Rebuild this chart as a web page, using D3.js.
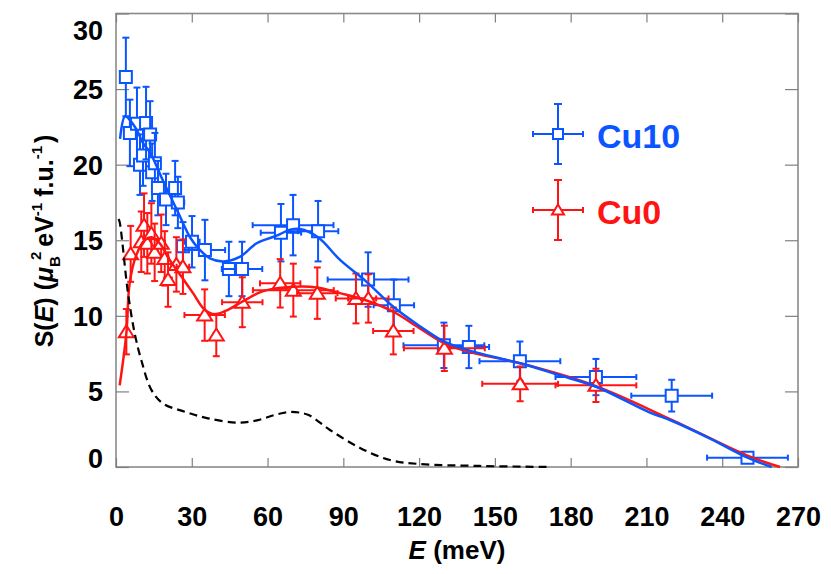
<!DOCTYPE html>
<html>
<head>
<meta charset="utf-8">
<script src="https://cdn.jsdelivr.net/npm/d3@7/dist/d3.min.js"></script>
<style>
  html, body { margin: 0; padding: 0; background: #fff; }
  svg { display: block; }
  text { font-family: "Liberation Sans", Arial, Helvetica, sans-serif; font-weight: bold; }
</style>
</head>
<body>
<svg id="chart" width="831" height="574"></svg>
<script>
// ---------------- data ----------------
const xTicks = [0, 30, 60, 90, 120, 150, 180, 210, 240, 270];
const yTicks = [0, 5, 10, 15, 20, 25, 30];
const seriesNames = ["Cu10", "Cu0"];

// Cu10 (blue squares): energy, S(E), x-error, y-error
const cu10E  = [3.9, 5.5, 8.3, 9.5, 10.7, 11.9, 13.5, 14.3, 15.4, 16.6, 19.8, 23.4, 24.5, 26.5, 30.1, 35.2, 44.7, 49.9, 65.3, 70.1, 80, 99.8, 110, 129.8, 139.7, 159.9, 190, 220, 250];
const cu10S  = [25.8, 22.1, 22.7, 20.0, 20.6, 22.75, 22.0, 19.5, 20.1, 18.45, 17.7, 18.45, 17.5, 14.6, 14.9, 14.35, 13.1, 13.1, 15.5, 16.0, 15.6, 12.4, 10.7, 8.05, 7.94, 7.0, 5.95, 4.72, 0.62];
const cu10Ex = [0.8, 0.8, 1, 1, 1, 1, 1, 1.2, 1.2, 1.5, 1.5, 2, 2.5, 2, 3, 8, 2.5, 8, 8, 16, 8, 16, 8, 16, 8, 16, 16, 16, 16];
const cu10Ey = [2.6, 2.2, 2.4, 2.0, 2.0, 2.4, 2.2, 1.9, 2.0, 1.8, 1.7, 1.8, 1.7, 1.6, 1.7, 2.0, 1.8, 1.8, 1.9, 2.0, 2.0, 1.8, 1.7, 1.5, 1.4, 1.3, 1.2, 1.05, 0];

// Cu0 (red triangles)
const cu0E  = [4.1, 5.8, 10.0, 11.1, 12.4, 14.0, 15.3, 17.9, 19.3, 20.6, 23.9, 26.5, 35.1, 39.7, 50, 65, 70.2, 79.7, 95, 99.9, 109.8, 130, 160, 190];
const cu0S  = [8.95, 14.1, 14.9, 16.0, 14.8, 15.45, 14.2, 14.8, 13.8, 12.4, 13.4, 13.25, 10.05, 8.73, 10.9, 12.15, 11.7, 11.5, 11.15, 11.15, 9.0, 7.85, 5.5, 5.4];
const cu0Ex = [0.8, 0.8, 1, 1, 1, 1.2, 1.2, 1.5, 1.5, 1.5, 2, 2.5, 8, 1, 8, 8, 16, 8, 8, 8, 8, 16, 15, 16];
const cu0Ey = [1.5, 1.85, 2.0, 2.1, 2.0, 2.0, 1.9, 1.9, 1.8, 1.8, 1.8, 1.8, 1.7, 1.4, 1.65, 1.6, 1.75, 1.7, 1.65, 1.6, 1.55, 1.5, 1.15, 1.1];

// Fit curves
const cu10FitE = [1.6, 3.6, 5.5, 8.2, 10.8, 13.5, 18.7, 24.7, 29.3, 33, 37.2, 42.5, 49, 55.7, 63.6, 68.9, 72.8, 80, 88.7, 99.2, 109.8, 120, 130, 140, 160, 175, 190, 211.4, 220, 235, 250, 259.6];
const cu10FitS = [21.7, 23.2, 22.95, 22.3, 21.4, 20.8, 18.9, 16.8, 15.2, 14.4, 13.8, 13.6, 13.9, 14.8, 15.3, 15.7, 15.75, 15.2, 13.7, 12.25, 10.6, 9.35, 8.29, 7.7, 6.86, 6.1, 5.31, 3.6, 3.06, 1.9, 0.62, 0];
const cu0FitE = [1.45, 4.1, 5.4, 8, 11.3, 14, 17.3, 21.2, 25.9, 30.5, 35.1, 39.1, 44.3, 49.6, 56.2, 59.7, 70.2, 79.5, 88.7, 99.5, 109.8, 120, 130, 140, 160, 190, 220, 250, 262.9];
const cu0FitS = [5.4, 8.84, 12.15, 14.0, 15.0, 15.2, 14.8, 13.7, 12.6, 11.5, 10.4, 10.1, 10.4, 10.9, 11.5, 11.7, 11.92, 11.88, 11.5, 11.0, 10.27, 9.2, 8.18, 7.6, 6.86, 5.35, 3.12, 0.75, 0];
const phononE = [1, 1.45, 4.75, 7.4, 10, 14, 18.6, 27.2, 36.4, 48.3, 56.2, 63, 69, 76, 84.7, 96.6, 108.5, 120, 144, 172];
const phononS = [16.4, 16.2, 11.5, 8.84, 7.08, 5.1, 4.2, 3.66, 3.22, 2.93, 3.1, 3.45, 3.64, 3.45, 2.45, 1.26, 0.46, 0.2, 0.07, 0];

// ---------------- drawing ----------------
const blue = "#0a55ff", red = "#ff1414";
const svg = d3.select("#chart");
const x = d3.scaleLinear().domain([0, 270]).range([116, 798]);
const y = d3.scaleLinear().domain([0, 30]).range([467, 13.5]);

const frame = svg.append("g");
// ticks (inward) on all four sides
const axB = svg.append("g").attr("transform", `translate(0,${y(0)})`)
  .call(d3.axisBottom(x).tickValues(xTicks).tickSize(-9).tickPadding(40).tickFormat(d3.format("d")));
const axT = svg.append("g").attr("transform", `translate(0,${y(30)})`)
  .call(d3.axisTop(x).tickValues(xTicks).tickSize(-9).tickFormat(""));
const axL = svg.append("g").attr("transform", `translate(${x(0)},0)`)
  .call(d3.axisLeft(y).tickValues(yTicks).tickSize(-13).tickPadding(13).tickFormat(d3.format("d")));
const axR = svg.append("g").attr("transform", `translate(${x(270)},0)`)
  .call(d3.axisRight(y).tickValues(yTicks).tickSize(-13).tickFormat(""));
[axB, axT, axL, axR].forEach(a => {
  a.select(".domain").remove();
  a.selectAll(".tick line").attr("stroke", "#808080").attr("stroke-width", 1.2);
  a.selectAll("text").attr("fill", "#000").style("font-size", "27px")
   .style("font-family", "'Liberation Sans', Arial, sans-serif").style("font-weight", "bold");
});
// end labels of the y axis sit inside the frame range
axL.selectAll(".tick text").attr("dy", d => d === 30 ? "0.95em" : (d === 0 ? "0.0em" : "0.35em"));

frame.append("rect")
  .attr("x", x(0)).attr("y", y(30)).attr("width", x(270) - x(0)).attr("height", y(0) - y(30))
  .attr("fill", "none").attr("stroke", "#8a8a8a").attr("stroke-width", 1.6);

const line = d3.line().x(d => x(d[0])).y(d => y(d[1])).curve(d3.curveCatmullRom.alpha(0.5));

function drawSeries(E, S, Ex, Ey, color, shape) {
  const g = svg.append("g");
  const cap = 3.5;
  E.forEach((e, i) => {
    const cx = x(e), cy = y(S[i]);
    const pg = g.append("g").attr("stroke", color).attr("stroke-width", 2).attr("fill", "none");
    if (Ey[i] > 0) {
      const y1 = y(S[i] + Ey[i]), y2 = y(S[i] - Ey[i]);
      pg.append("line").attr("x1", cx).attr("x2", cx).attr("y1", y1).attr("y2", y2);
      pg.append("line").attr("x1", cx - cap).attr("x2", cx + cap).attr("y1", y1).attr("y2", y1);
      pg.append("line").attr("x1", cx - cap).attr("x2", cx + cap).attr("y1", y2).attr("y2", y2);
    }
    if (Ex[i] > 0) {
      const x1 = x(e - Ex[i]), x2 = x(e + Ex[i]);
      pg.append("line").attr("x1", x1).attr("x2", x2).attr("y1", cy).attr("y2", cy);
      pg.append("line").attr("x1", x1).attr("x2", x1).attr("y1", cy - 3).attr("y2", cy + 3);
      pg.append("line").attr("x1", x2).attr("x2", x2).attr("y1", cy - 3).attr("y2", cy + 3);
    }
    pg.append("path").attr("d", shape).attr("transform", `translate(${cx},${cy})`)
      .attr("fill", "#fff").attr("stroke-width", 2);
  });
}
const squarePath = "M-6,-6H6V6H-6Z";
const triPath = "M0,-6.5L7.5,5.5L-7.5,5.5Z";

drawSeries(cu10E, cu10S, cu10Ex, cu10Ey, blue, squarePath);
drawSeries(cu0E, cu0S, cu0Ex, cu0Ey, red, triPath);

svg.append("path").datum(cu0FitE.map((e, i) => [e, cu0FitS[i]]))
  .attr("d", line).attr("fill", "none").attr("stroke", red).attr("stroke-width", 2.5);
svg.append("path").datum(cu10FitE.map((e, i) => [e, cu10FitS[i]]))
  .attr("d", line).attr("fill", "none").attr("stroke", blue).attr("stroke-width", 2.5);
svg.append("path").datum(phononE.map((e, i) => [e, phononS[i]]))
  .attr("d", line).attr("fill", "none").attr("stroke", "#000").attr("stroke-width", 2.2)
  .attr("stroke-dasharray", "8,5");

// ---------------- legend ----------------
const legend = [
  { name: seriesNames[0], color: blue, shape: "M-5,-5H5V5H-5Z", cy: 134 },
  { name: seriesNames[1], color: red, shape: "M0,-5.5L6,4.5L-6,4.5Z", cy: 210 }
];
legend.forEach(l => {
  const g = svg.append("g").attr("stroke", l.color).attr("stroke-width", 2).attr("fill", "none");
  const cx = 558;
  g.append("line").attr("x1", cx).attr("x2", cx).attr("y1", l.cy - 30).attr("y2", l.cy + 30);
  g.append("line").attr("x1", cx - 4).attr("x2", cx + 4).attr("y1", l.cy - 30).attr("y2", l.cy - 30);
  g.append("line").attr("x1", cx - 4).attr("x2", cx + 4).attr("y1", l.cy + 30).attr("y2", l.cy + 30);
  g.append("line").attr("x1", cx - 25).attr("x2", cx + 25).attr("y1", l.cy).attr("y2", l.cy);
  g.append("line").attr("x1", cx - 25).attr("x2", cx - 25).attr("y1", l.cy - 3).attr("y2", l.cy + 3);
  g.append("line").attr("x1", cx + 25).attr("x2", cx + 25).attr("y1", l.cy - 3).attr("y2", l.cy + 3);
  g.append("path").attr("d", l.shape).attr("transform", `translate(${cx},${l.cy})`).attr("fill", "#fff");
  svg.append("text").attr("x", 597).attr("y", l.cy + 14).attr("fill", l.color)
    .style("font-size", "34px").text(l.name);
});

// ---------------- axis titles ----------------
const xt = svg.append("text").attr("x", 457).attr("y", 559).attr("text-anchor", "middle")
  .style("font-size", "26px");
xt.append("tspan").style("font-style", "italic").text("E");
xt.append("tspan").text(" (meV)");

const yt = svg.append("text").attr("transform", "translate(53,241) rotate(-90)")
  .attr("text-anchor", "middle").style("font-size", "25px");
yt.append("tspan").text("S(");
yt.append("tspan").style("font-style", "italic").text("E");
yt.append("tspan").text(") (");
yt.append("tspan").style("font-style", "italic").text("μ");
yt.append("tspan").attr("dy", 7).style("font-size", "15px").text("B");
yt.append("tspan").attr("dy", -19).attr("dx", -4).style("font-size", "15px").text("2");
yt.append("tspan").attr("dy", 12).attr("dx", 5).text("eV");
yt.append("tspan").attr("dy", -11).style("font-size", "15px").text("-1");
yt.append("tspan").attr("dy", 11).attr("dx", 6).text("f.u.");
yt.append("tspan").attr("dy", -11).style("font-size", "15px").text("-1");
yt.append("tspan").attr("dy", 11).attr("dx", 3).text(")");
</script>
</body>
</html>
